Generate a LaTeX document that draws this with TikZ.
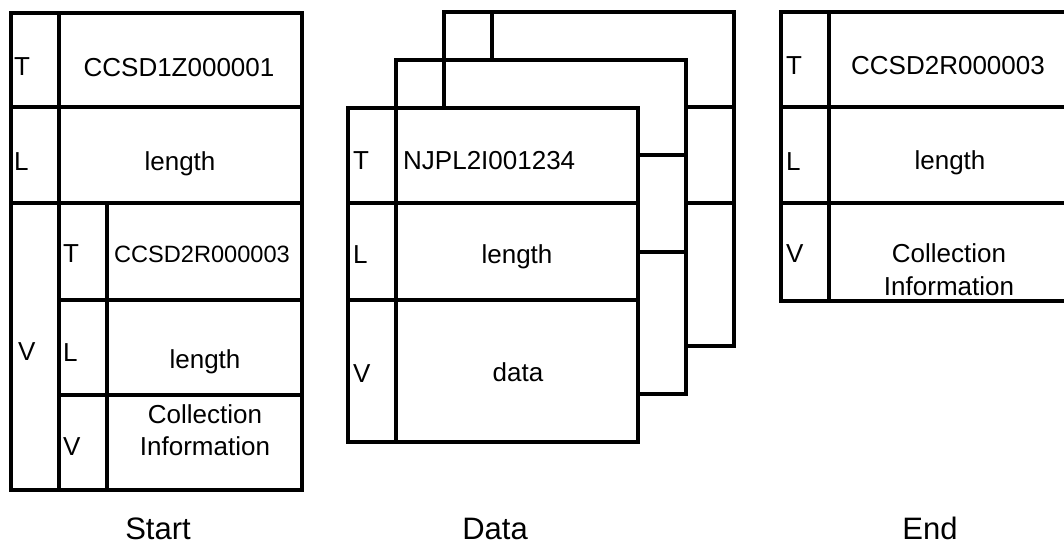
\documentclass[tikz,border=0pt]{standalone}
\usepackage{fontspec}
\setmainfont{Liberation Sans}
\begin{document}
\begin{tikzpicture}[x=1pt,y=-1pt,
  box/.style={draw=black, fill=white, line width=3.2pt},
  rule/.style={draw=black, line width=3.2pt},
  txt/.style={font=\fontsize{26}{32}\selectfont, inner sep=0pt, anchor=base},
  tag/.style={txt, anchor=base west},
  small/.style={txt, font=\fontsize{23.6}{28}\selectfont},
  caption/.style={font=\fontsize{31}{36}\selectfont, inner sep=0pt, anchor=base}]
\useasboundingbox (0,0) rectangle (1064,547);
\clip (0,0) rectangle (1064,547);
\fill[white] (0,0) rectangle (1064,547);

% ---------- Start ----------
\draw[box] (11,13) rectangle (302,490);
\draw[rule] (59,13) -- (59,490);
\draw[rule] (11,107) -- (302,107);
\draw[rule] (11,203) -- (302,203);
\draw[rule] (107,203) -- (107,490);
\draw[rule] (59,300) -- (302,300);
\draw[rule] (59,395) -- (302,395);
\node[tag] (sT) at (14,75) {T};
\node[txt] (sTv) at (179,76) {CCSD1Z000001};
\node[tag] (sL) at (14,170) {L};
\node[txt] (sLv) at (180,170) {length};
\node[tag] (sV) at (18,360) {V};
\node[tag] (siT) at (63,262) {T};
\node[small] (siTv) at (202,262) {CCSD2R000003};
\node[tag] (siL) at (63,361) {L};
\node[txt] (siLv) at (205,368) {length};
\node[tag] (siV) at (63,455) {V};
\node[txt] (siV1) at (205,423) {Collection};
\node[txt] (siV2) at (205,455) {Information};
\node[caption] (start) at (158,539) {Start};

% ---------- Data ----------
% back record
\draw[box] (444,12) rectangle (734,346);
\draw[rule] (492,12) -- (492,346);
\draw[rule] (444,107) -- (734,107);
\draw[rule] (444,203) -- (734,203);
% middle record
\draw[box] (396,60) rectangle (686,394);
\draw[rule] (444,60) -- (444,394);
\draw[rule] (396,155) -- (686,155);
\draw[rule] (396,252) -- (686,252);
% front record
\draw[box] (348,108) rectangle (638,442);
\draw[rule] (396,108) -- (396,442);
\draw[rule] (348,203) -- (638,203);
\draw[rule] (348,300) -- (638,300);
\node[tag] (dT) at (353,169) {T};
\node[tag] (dTv) at (403,169) {NJPL2I001234};
\node[tag] (dL) at (353,263) {L};
\node[txt] (dLv) at (517,263) {length};
\node[tag] (dV) at (353,382) {V};
\node[txt] (dVv) at (518,381) {data};
\node[caption] (data) at (495,539) {Data};

% ---------- End ----------
\draw[box] (781,12) rectangle (1090,301);
\draw[rule] (829,12) -- (829,301);
\draw[rule] (781,107) -- (1090,107);
\draw[rule] (781,203) -- (1090,203);
\node[tag] (eT) at (786,74) {T};
\node[txt] (eTv) at (948,74) {CCSD2R000003};
\node[tag] (eL) at (786,170) {L};
\node[txt] (eLv) at (950,169) {length};
\node[tag] (eV) at (786,262) {V};
\node[txt] (eV1) at (949,262) {Collection};
\node[txt] (eV2) at (949,295) {Information};
\node[caption] (end) at (930,539) {End};
\end{tikzpicture}
\end{document}
